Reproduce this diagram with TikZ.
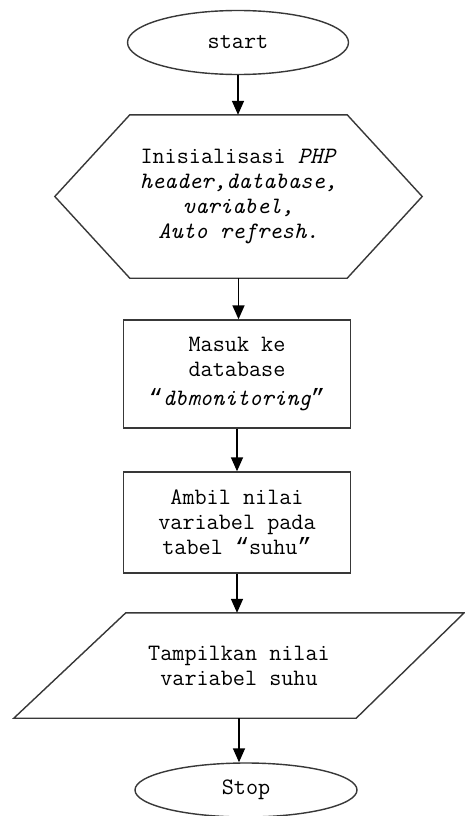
\documentclass[tikz,border=0pt]{standalone}
\usepackage{fontspec}
\newfontfamily\quotefont{Liberation Mono}
\usetikzlibrary{shapes.geometric,arrows.meta}

\newcommand{\oquote}{{\quotefont “}}
\newcommand{\cquote}{{\quotefont ”}}

\begin{document}
\begin{tikzpicture}[x=1pt,y=1pt,
    font=\ttfamily\fontsize{23.5}{25}\selectfont,
    outline/.style={draw=black!78, line width=1.4pt},
    term/.style={outline, ellipse, minimum width=221, minimum height=64, inner sep=0pt},
    box/.style={outline, rectangle, minimum width=227, align=center, inner sep=0pt},
    hidden/.style={rectangle, align=center, inner sep=0pt},
    flow/.style={draw=black, line width=1.5pt, -{Triangle[length=14pt,width=12pt]}}]

  % canvas
  \fill[white] (0,0) rectangle (465,-816);
  \useasboundingbox (0,0) rectangle (465,-816);

% --- TERMINALS ---
  \node[term] (start) at (238,-42.5) {start};
  \node[term, minimum width=222, minimum height=54] (stop) at (246,-790) {Stop};

% --- PREPARATION (hexagon) ---
  \node[hidden, minimum width=367, minimum height=163] (init) at (238.5,-196.5)
    {Inisialisasi \textit{PHP}\\ \textit{header,database,}\\ \textit{variabel,}\\ \textit{Auto refresh.}};
  \draw[outline] (init.west) -- ([xshift=75]init.north west) -- ([xshift=-75]init.north east)
    -- (init.east) -- ([xshift=-75]init.south east) -- ([xshift=75]init.south west) -- cycle;

% --- PROCESS ---
  \node[box, minimum height=108] (masuk) at (237,-374)
    {Masuk ke\\ database\\[4pt] \oquote\textit{dbmonitoring}\cquote};
  \node[box, minimum height=101] (ambil) at (237,-522.5)
    {Ambil nilai\\ variabel pada\\ tabel \oquote suhu\cquote};

% --- OUTPUT (parallelogram) ---
  \node[hidden, minimum width=338, minimum height=105] (tampil) at (239,-665.5)
    {Tampilkan nilai\\ variabel suhu};
  \draw[outline] ([xshift=56]tampil.north west) -- ([xshift=56]tampil.north east)
    -- ([xshift=-52]tampil.south east) -- ([xshift=-56]tampil.south west) -- cycle;

% flow lines
  \foreach \a/\b in {start/init, init/masuk, masuk/ambil, ambil/tampil, tampil/stop} {
    \draw[flow] (\a.south) -- (\a.south |- \b.north);
  }
\end{tikzpicture}
\end{document}
